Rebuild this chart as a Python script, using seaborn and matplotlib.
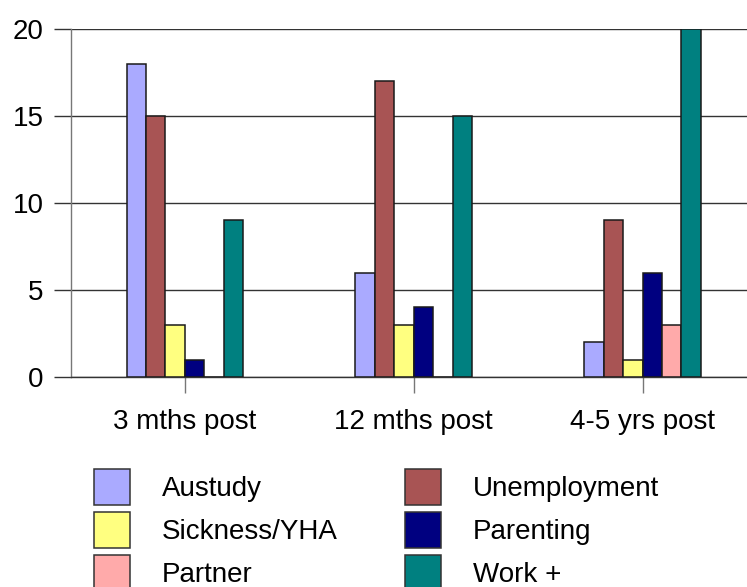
import matplotlib
matplotlib.use("Agg")
import matplotlib.pyplot as plt
from matplotlib.patches import Patch
import seaborn as sns
import pandas as pd

periods = ["3 mths post", "12 mths post", "4-5 yrs post"]
series = ["Austudy", "Unemployment", "Sickness/YHA", "Parenting", "Partner", "Work +"]
austudy = [18, 6, 2]
unemployment = [15, 17, 9]
sickness = [3, 3, 1]
parenting = [1, 4, 6]
partner = [0, 0, 3]
work = [9, 15, 20]
colors = ["#AAAAFF", "#A85454", "#FFFF80", "#000080", "#FFAAAA", "#008080"]
y_ticks = [0, 5, 10, 15, 20]

values = [austudy, unemployment, sickness, parenting, partner, work]
rows = []
for name, vals in zip(series, values):
    for p, v in zip(periods, vals):
        rows.append({"period": p, "benefit": name, "count": v})
df = pd.DataFrame(rows)

sns.set_style("white")
plt.rcParams["font.family"] = ["Liberation Sans", "DejaVu Sans"]
plt.rcParams["text.color"] = "black"

W, H = 747, 587
fig = plt.figure(figsize=(W / 100, H / 100), dpi=100)
ax = fig.add_axes([70.5 / W, 1 - 377 / H, (757 - 70.5) / W, (377 - 29) / H])

sns.barplot(data=df, x="period", y="count", hue="benefit", hue_order=series,
            order=periods, palette=colors, saturation=1, width=0.51,
            edgecolor="#1a1a1a", linewidth=1.1, ax=ax, legend=False, zorder=3)

ax.set_ylim(0, 20)
ax.set_xlim(-0.5, 2.5)
ax.set_yticks(y_ticks)
ax.set_yticklabels([str(t) for t in y_ticks])
ax.yaxis.grid(True, color="#333333", linewidth=1.0, zorder=0)
ax.set_axisbelow(True)
ax.set_xlabel("")
ax.set_ylabel("")

for s in ["top", "right"]:
    ax.spines[s].set_visible(False)
ax.spines["left"].set_color("#777777")
ax.spines["left"].set_linewidth(1.0)
ax.spines["bottom"].set_color("#333333")
ax.spines["bottom"].set_linewidth(1.0)

ax.tick_params(axis="y", length=12.2, width=1.0, color="#333333", pad=7,
               labelsize=20, labelcolor="black", direction="out", left=True)
ax.tick_params(axis="x", length=11.5, width=1.0, color="#777777", pad=11.5,
               labelsize=20, labelcolor="black", direction="out", bottom=True)

handles = [Patch(facecolor=c, edgecolor="#333333", linewidth=1.1) for c in colors]
order = [0, 2, 4, 1, 3, 5]
fig.legend([handles[i] for i in order], [series[i] for i in order],
           ncol=2, loc="upper left", bbox_to_anchor=(94 / W, 1 - 469 / H),
           frameon=False, fontsize=20, borderpad=0, borderaxespad=0,
           handlelength=1.296, handleheight=1.617, handletextpad=1.15,
           labelspacing=0.252, columnspacing=2.41)

fig.savefig("out.png", dpi=100)
